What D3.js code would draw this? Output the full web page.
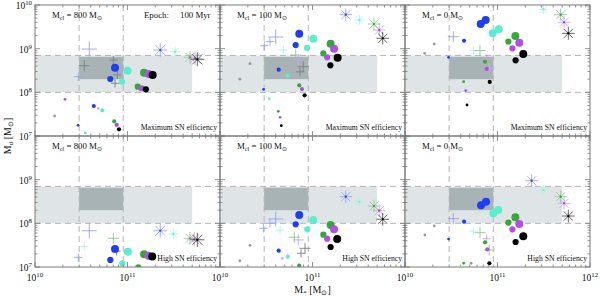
<!DOCTYPE html>
<html><head><meta charset="utf-8">
<script src="https://cdn.jsdelivr.net/npm/d3@7"></script>
<style>
body{margin:0;background:#fff}
svg{display:block}
text{font-family:"Liberation Serif","Times New Roman",serif;fill:#111}
</style>
</head><body>
<svg id="c" width="600" height="296"></svg>
<script>
// ---------------- DATA ----------------
const clusterMasses = ["800", "100", "0"];
const efficiencyLabels = ["Maximum SN efficiency", "High SN efficiency"];
const epochLabel = ["Epoch:", "100 Myr"];
const xMajorTicks = [1e10, 1e11, 1e12];
const xTickExponents = ["10", "11", "12"];
const yMajorTicks = [1e7, 1e8, 1e9, 1e10];
const yTickExponents = ["7", "8", "9", "10"];
const xDomain = [1e10, 1e12];
const yDomain = [1e7, 1e10];
// observational constraints
const boxLight = [1e10, 5e11, 1e8, 7e8];
const boxDark = [3e10, 9e10, 2e8, 6.5e8];
const dashX = [3e10, 9e10];
const dashY = [1e8, 7e8];

// points: [M*, Md, series, group]
const circles_800_max = [
 [4.32e10,4.86e7,"b",3],[4.85e10,4.27e7,"pink",4],[5.35e10,3.87e7,"c",3],
 [7.19e10,2.17e7,"g",3],[7.64e10,1.79e7,"p",3],[8.09e10,1.42e7,"k",3],
 [2.92e10,1.76e7,"b",4],[3.5e10,1.17e7,"c",4],[2.11e10,6.9e7,"p",4],[1.63e10,2.87e7,"gray",4],
 [7.33e10,3.66e8,"b",1],[6.52e10,2.02e8,"b",2],[1.0e11,3.13e8,"c",1],[8.73e10,1.75e8,"c",2],
 [1.51e11,2.82e8,"g",1],[1.69e11,2.63e8,"p",1],[1.87e11,2.49e8,"k",1],
 [1.29e11,1.35e8,"g",2],[1.42e11,1.24e8,"p",2],[1.58e11,1.17e8,"k",2]
];
const plus_800_max = [
 [3.86e10,9.77e8,"b",1],[3.41e10,4.07e8,"gray",2],[2.94e10,2.28e8,"b",3],
 [7.33e10,1.61e8,"gray",3],[7.76e10,2.51e8,"gray",3],[7.03e10,5.5e8,"gray",3]
];
const stars_800_max = [
 [2.26e11,9.33e8,"b",1],[3.27e11,8.51e8,"c",3],[4.74e11,6.31e8,"g",2],
 [5.37e11,6.03e8,"p",1],[5.69e11,5.7e8,"k",1]
];

const circles_100_max = [
 [4.31e10,3.3e8,"b",3],[5.4e10,2.4e8,"c",3],[7.19e10,1.45e8,"g",3],[7.69e10,1.19e8,"p",3],[8.22e10,8.55e7,"k",3],
 [2.96e10,1.17e8,"b",4],[3.41e10,7.16e7,"c",4],[4.27e10,3.68e7,"g",4],[4.46e10,2.68e7,"p",4],[4.6e10,1.72e7,"k",4],
 [1.64e10,2.0e8,"gray",4],[2.11e10,4.53e8,"gray",4],
 [7.19e10,2.2e9,"b",1],[6.58e10,1.21e9,"b",2],[1.02e11,1.69e9,"c",1],[8.73e10,1.04e9,"c",2],
 [1.57e11,1.3e9,"g",1],[1.71e11,1.0e9,"p",1],[1.87e11,6.21e8,"k",1],
 [1.31e11,7.83e8,"g",2],[1.44e11,6.34e8,"p",2],[1.56e11,4.16e8,"k",2]
];
const plus_100_max = [
 [4.0e10,1.85e9,"b",1],[3.47e10,1.45e9,"b",3],[3.01e10,1.17e9,"b",3],[4.84e10,9.33e8,"c",3],
 [6.58e10,7.16e8,"g",2],[7.03e10,5.5e8,"p",2],[7.94e10,3.86e8,"gray",2],[7.33e10,2.95e8,"gray",3]
];
const stars_100_max = [
 [2.29e11,6.0e9,"b",2],[3.21e11,4.54e9,"c",3],[4.62e11,3.67e9,"g",2],
 [5.27e11,2.67e9,"p",2],[5.74e11,1.73e9,"k",2]
];

const circles_0_max = [
 [4.35e10,1.52e9,"b",3],[2.96e10,6.34e8,"b",4],[7.33e10,5.01e8,"g",3],[7.64e10,3.43e8,"p",3],[8.24e10,1.73e8,"k",3],
 [4.31e10,1.75e8,"g",4],[4.53e10,1.1e8,"p",4],[4.68e10,5.13e7,"k",4],[1.63e10,7.83e8,"gray",4],[2.07e10,1.28e9,"gray",4],
 [6.58e10,3.67e9,"b",1],[7.45e10,4.54e9,"b",1],[8.87e10,2.24e9,"c",1],[1.03e11,2.77e9,"c",1],
 [1.31e11,1.45e9,"g",2],[1.56e11,1.95e9,"g",1],[1.45e11,1.02e9,"p",2],[1.72e11,1.37e9,"p",1],
 [1.57e11,5.41e8,"k",2],[1.9e11,7.55e8,"k",1]
];
const plus_0_max = [
 [3.33e10,1.88e9,"b",2],[5.5e10,9.1e8,"c",3],[6.47e10,9.02e8,"g",2],[7.64e10,6.03e8,"p",3],[8.15e10,3.55e8,"p",2]
];
const stars_0_max = [
 [3.13e11,7.94e9,"c",3],[4.82e11,6.0e9,"g",2],[5.24e11,4.01e9,"p",2],[5.83e11,2.24e9,"k",2]
];

const circles_800_high = [
 [7.33e10,2.58e7,"b",1],[6.52e10,1.45e7,"b",2],[1.01e11,2.24e7,"c",1],[8.79e10,1.22e7,"c",2],
 [1.31e11,9.8e6,"g",2],[1.51e11,1.95e7,"g",1],[1.69e11,1.82e7,"p",1],[1.85e11,1.73e7,"k",1]
];
const plus_800_high = [
 [3.86e10,6.76e7,"b",1],[3.41e10,2.92e7,"c",3],[2.94e10,1.66e7,"b",3],
 [7.03e10,4.54e7,"g",2],[7.6e10,2.3e7,"gray",3]
];
const stars_800_high = [
 [2.26e11,6.76e7,"b",1],[3.13e11,5.7e7,"c",3],[4.74e11,4.54e7,"g",2],
 [5.27e11,4.32e7,"p",1],[5.69e11,4.2e7,"k",1]
];

const circles_100_high = [
 [4.31e10,2.37e7,"b",3],[5.4e10,1.72e7,"c",3],[7.19e10,1.07e7,"g",3],[4.72e10,1.58e7,"pink",4],
 [2.11e10,3.14e7,"gray",4],[1.64e10,1.39e7,"gray",4],
 [7.19e10,1.55e8,"b",1],[6.58e10,9.5e7,"b",2],[1.02e11,1.19e8,"c",1],[8.79e10,7.29e7,"c",2],
 [1.57e11,9.16e7,"g",1],[1.71e11,7.29e7,"p",1],[1.85e11,4.38e7,"k",1],
 [1.31e11,5.5e7,"g",2],[1.44e11,4.45e7,"p",2],[1.57e11,2.87e7,"k",2]
];
const plus_100_high = [
 [4.0e10,1.26e8,"b",1],[3.47e10,1.0e8,"b",3],[2.94e10,7.69e7,"b",3],[4.46e10,7.03e7,"c",3],
 [6.35e10,4.79e7,"g",2],[7.03e10,4.17e7,"p",2],[8.3e10,2.68e7,"gray",2],[7.52e10,2.06e7,"gray",3]
];
const stars_100_high = [
 [2.29e11,4.07e8,"b",2],[3.21e11,3.09e8,"c",3],[4.62e11,2.49e8,"g",2],
 [5.27e11,1.95e8,"p",2],[5.74e11,1.24e8,"k",2]
];

const circles_0_high = [
 [4.35e10,1.09e8,"b",3],[2.96e10,4.37e7,"b",4],[7.33e10,3.68e7,"g",3],[7.76e10,2.54e7,"p",3],[8.17e10,1.22e7,"k",3],
 [4.31e10,1.22e7,"g",4],[5.18e10,1.22e7,"gray",4],[1.64e10,5.41e7,"gray",4],[2.07e10,8.71e7,"gray",4],
 [6.64e10,2.59e8,"b",1],[7.52e10,3.13e8,"b",1],[9.02e10,1.7e8,"c",1],[1.02e11,2.02e8,"c",1],
 [1.31e11,1.04e8,"g",2],[1.56e11,1.37e8,"g",1],[1.45e11,7.29e7,"p",2],[1.72e11,9.66e7,"p",1],
 [1.57e11,3.74e7,"k",2],[1.9e11,5.05e7,"k",1]
];
const plus_0_high = [
 [3.33e10,1.28e8,"b",2],[5.5e10,6.6e7,"c",3],[6.47e10,6.11e7,"g",2],[7.64e10,4.45e7,"p",3],[8.15e10,2.45e7,"g",2]
];
const stars_0_high = [
 [2.34e11,9.46e8,"b",2],[3.13e11,5.8e8,"c",3],[4.82e11,4.07e8,"g",2],
 [5.24e11,2.88e8,"p",2],[5.83e11,1.47e8,"k",2]
];

// ---------------- LAYOUT / STYLE ----------------
const L = 35, PW = 185, T = 5, PH = 131;
const panels = [
 [[circles_800_max, plus_800_max, stars_800_max], [circles_100_max, plus_100_max, stars_100_max], [circles_0_max, plus_0_max, stars_0_max]],
 [[circles_800_high, plus_800_high, stars_800_high], [circles_100_high, plus_100_high, stars_100_high], [circles_0_high, plus_0_high, stars_0_high]]
];
const series = ["b","c","g","p","k","gray","pink"];
const fillColor = d3.scaleOrdinal().domain(series).range(["#1e3ef0","#5ceccf","#35a835","#b24de6","#000000","#9a9a9a","#e9a6dc"]);
const lineColor = d3.scaleOrdinal().domain(series).range(["#97a2f0","#aef2e4","#8ccc8c","#cea0f0","#4a4a4a","#808080","#e9a6dc"]);
const centerColor = d3.scaleOrdinal().domain(series).range(["#2a3fd8","#7fe8d4","#3a9a3a","#9a3fd0","#000000","#666","#c77"]);
const radius = d3.scaleOrdinal().domain([1,2,3,4]).range([4,3.1,2.1,1.4]);
const plusArm = d3.scaleOrdinal().domain([1,2,3]).range([7.5,5.5,4.2]);
const starArm = d3.scaleOrdinal().domain([1,2,3]).range([7,6.3,5]);

const x = d3.scaleLog().domain(xDomain).range([0, PW]);
const y = d3.scaleLog().domain(yDomain).range([PH, 0]);

const svg = d3.select("#c");
const frameColor = "#7a7a7a";
const NB = "\u00a0";

function supLabel(sel, base, exp, fs) {
  sel.append("tspan").text(base);
  sel.append("tspan").attr("dy", -fs*0.42).attr("font-size", fs*0.72).text(exp);
}

panels.forEach((row, r) => {
  row.forEach((pd, c) => {
    const [circ, plus, stars] = pd;
    const gx = L + c*PW, gy = T + r*PH;
    const clipId = `clip${r}${c}`;
    svg.append("clipPath").attr("id", clipId).append("rect")
      .attr("x", 0).attr("y", 0).attr("width", PW).attr("height", PH);
    const g = svg.append("g").attr("transform", `translate(${gx},${gy})`);
    const pg = g.append("g").attr("clip-path", `url(#${clipId})`);

    pg.append("rect").attr("x", x(boxLight[0])).attr("width", x(boxLight[1]) - x(boxLight[0]))
      .attr("y", y(boxLight[3])).attr("height", y(boxLight[2]) - y(boxLight[3])).attr("fill", "#dfe5e7");
    pg.append("rect").attr("x", x(boxDark[0])).attr("width", x(boxDark[1]) - x(boxDark[0]))
      .attr("y", y(boxDark[3])).attr("height", y(boxDark[2]) - y(boxDark[3])).attr("fill", "#a8b3b6");
    dashX.forEach(v => pg.append("line").attr("x1", x(v)).attr("x2", x(v)).attr("y1", 0).attr("y2", PH)
      .attr("stroke", "#b5b5b5").attr("stroke-width", 1).attr("stroke-dasharray", "6,4"));
    dashY.forEach(v => pg.append("line").attr("y1", y(v)).attr("y2", y(v)).attr("x1", 0).attr("x2", PW)
      .attr("stroke", "#b5b5b5").attr("stroke-width", 1).attr("stroke-dasharray", "6,4"));

    // plus markers
    plus.forEach(d => {
      const px = x(d[0]), py = y(d[1]), a = plusArm(d[3]);
      pg.append("path").attr("d", `M${px-a},${py}H${px+a}M${px},${py-a}V${py+a}`)
        .attr("stroke", lineColor(d[2])).attr("stroke-width", 0.9).attr("fill", "none");
    });
    // star (asterisk) markers
    stars.forEach(d => {
      const px = x(d[0]), py = y(d[1]), a = starArm(d[3]), b = a*0.72;
      pg.append("path").attr("d",
        `M${px-a},${py}H${px+a}M${px},${py-a}V${py+a}M${px-b},${py-b}L${px+b},${py+b}M${px-b},${py+b}L${px+b},${py-b}`)
        .attr("stroke", lineColor(d[2])).attr("stroke-width", 0.85).attr("fill", "none");
      pg.append("circle").attr("cx", px).attr("cy", py).attr("r", 1.1).attr("fill", centerColor(d[2]));
    });
    // circles
    circ.forEach(d => {
      pg.append("circle").attr("cx", x(d[0])).attr("cy", y(d[1])).attr("r", radius(d[3]))
        .attr("fill", fillColor(d[2]));
    });

    // texts
    const t1 = g.append("text").attr("x", 17).attr("y", 12.5).attr("font-size", 8.8);
    t1.append("tspan").text("M");
    t1.append("tspan").attr("dy", 2).attr("font-size", 6.2).text("cl");
    t1.append("tspan").attr("dy", -2).text(`${NB}=${NB}${clusterMasses[c]}${NB}M`);
    t1.append("tspan").attr("dy", 2).attr("font-size", 6.4).text("\u2299");
    if (r === 0 && c === 0) {
      g.append("text").attr("x", 109).attr("y", 12.5).attr("font-size", 8.8).text(epochLabel[0]);
      g.append("text").attr("x", 145).attr("y", 12.5).attr("font-size", 8.8).text(epochLabel[1]);
    }
    g.append("text").attr("x", PW - 3).attr("y", PH - 6.5).attr("text-anchor", "end")
      .attr("font-size", 7.7).text(efficiencyLabels[r]);

    // frame and ticks
    g.append("rect").attr("width", PW).attr("height", PH).attr("fill", "none")
      .attr("stroke", frameColor).attr("stroke-width", 1);
    const isMajor = v => Math.abs(Math.log10(v) - Math.round(Math.log10(v))) < 1e-6;
    const xt = x.ticks(), yt = y.ticks();
    const tk = g.append("g").attr("stroke", frameColor).attr("stroke-width", 0.8);
    xt.forEach(v => {
      const len = isMajor(v) ? 5 : 2.5, xx = x(v);
      tk.append("line").attr("x1", xx).attr("x2", xx).attr("y1", PH).attr("y2", PH - len);
      tk.append("line").attr("x1", xx).attr("x2", xx).attr("y1", 0).attr("y2", len);
    });
    yt.forEach(v => {
      const len = isMajor(v) ? 5 : 2.5, yy = y(v);
      tk.append("line").attr("y1", yy).attr("y2", yy).attr("x1", 0).attr("x2", len);
      tk.append("line").attr("y1", yy).attr("y2", yy).attr("x1", PW).attr("x2", PW - len);
    });
  });
});

// y tick labels (left column)
[0, 1].forEach(r => {
  yMajorTicks.forEach((v, i) => {
    if (r === 1 && v === 1e10) return;
    const t = svg.append("text").attr("x", 32).attr("y", T + r*PH + y(v) + 4).attr("text-anchor", "end").attr("font-size", 9.5);
    supLabel(t, "10", yTickExponents[i], 9.5);
  });
});
// x tick labels (bottom row)
[0, 1, 2].forEach(c => {
  xMajorTicks.forEach((v, i) => {
    if (v === 1e12 && c < 2) return;
    const t = svg.append("text").attr("x", L + c*PW + x(v)).attr("y", T + 2*PH + 13.5)
      .attr("text-anchor", "middle").attr("font-size", 9.5);
    supLabel(t, "10", xTickExponents[i], 9.5);
  });
});
// axis titles
const xt = svg.append("text").attr("x", L + 1.5*PW).attr("y", 292.5).attr("text-anchor", "middle").attr("font-size", 10);
xt.append("tspan").text("M");
xt.append("tspan").attr("dy", 2).attr("font-size", 7).text("*");
xt.append("tspan").attr("dy", -2).text(`${NB}[M`);
xt.append("tspan").attr("dy", 2).attr("font-size", 7).text("\u2299");
xt.append("tspan").attr("dy", -2).text("]");

const yt = svg.append("text").attr("transform", `translate(11,${T + PH}) rotate(-90)`)
  .attr("text-anchor", "middle").attr("font-size", 10);
yt.append("tspan").text("M");
yt.append("tspan").attr("dy", 2).attr("font-size", 7).text("d");
yt.append("tspan").attr("dy", -2).text(`${NB}[M`);
yt.append("tspan").attr("dy", 2).attr("font-size", 7).text("\u2299");
yt.append("tspan").attr("dy", -2).text("]");
</script>
</body></html>
